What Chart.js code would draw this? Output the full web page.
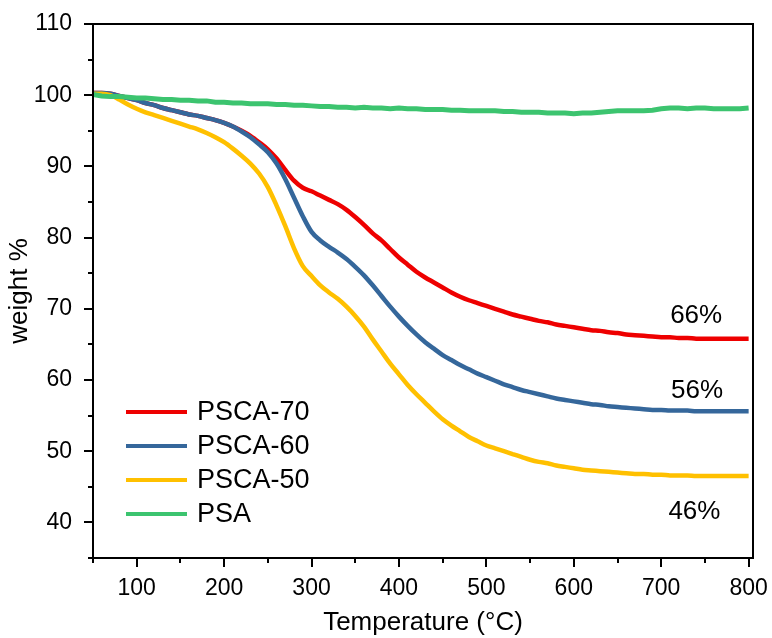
<!DOCTYPE html>
<html>
<head>
<meta charset="utf-8">
<script src="https://cdn.jsdelivr.net/npm/chart.js@4.4.1/dist/chart.umd.min.js"></script>
<style>
  html, body { margin: 0; padding: 0; background: #fff; }
  canvas { display: block; }
</style>
</head>
<body>
<canvas id="tga" width="772" height="638"></canvas>
<script>
// ---------------------------------------------------------------------------
// Data
// ---------------------------------------------------------------------------
const temps = [
    50, 60, 70, 80, 90, 100, 110, 120, 130, 140, 150, 160, 170, 180, 190,
    200, 210, 220, 230, 240, 250, 260, 270, 280, 290, 300, 310, 320, 330, 340,
    350, 360, 370, 380, 390, 400, 410, 420, 430, 440, 450, 460, 470, 480, 490,
    500, 510, 520, 530, 540, 550, 560, 570, 580, 590, 600, 610, 620, 630, 640,
    650, 660, 670, 680, 690, 700, 710, 720, 730, 740, 750, 760, 770, 780, 790, 800,
];

const psca70 = [
    100.3, 100.3, 100.2, 99.9, 99.6, 99.3, 98.9, 98.6, 98.2, 97.9, 97.6, 97.3, 97.1, 96.8, 96.5,
    96.1, 95.6, 95.0, 94.3, 93.4, 92.4, 91.1, 89.5, 88.0, 87.0, 86.5, 85.9, 85.3, 84.7, 83.9,
    82.9, 81.8, 80.6, 79.6, 78.4, 77.2, 76.2, 75.2, 74.4, 73.7, 73.0, 72.3, 71.7, 71.2, 70.8,
    70.4, 70.0, 69.6, 69.2, 68.9, 68.6, 68.3, 68.1, 67.8, 67.6, 67.4, 67.2, 67.0, 66.9, 66.7,
    66.6, 66.4, 66.3, 66.2, 66.1, 66.0, 66.0, 65.9, 65.9, 65.8, 65.8, 65.8, 65.8, 65.8, 65.8, 65.8,
];

const psca60 = [
    100.3, 100.3, 100.2, 99.9, 99.6, 99.3, 98.9, 98.6, 98.2, 97.9, 97.6, 97.3, 97.1, 96.8, 96.5,
    96.1, 95.6, 94.9, 94.1, 93.1, 92.0, 90.4, 88.2, 85.6, 83.0, 80.8, 79.6, 78.7, 77.9, 77.0,
    75.9, 74.7, 73.3, 71.8, 70.3, 68.9, 67.6, 66.4, 65.3, 64.4, 63.5, 62.8, 62.1, 61.5, 60.9,
    60.4, 59.9, 59.4, 59.0, 58.6, 58.3, 58.0, 57.7, 57.4, 57.2, 57.0, 56.8, 56.6, 56.5, 56.3,
    56.2, 56.1, 56.0, 55.9, 55.8, 55.8, 55.7, 55.7, 55.7, 55.6, 55.6, 55.6, 55.6, 55.6, 55.6, 55.6,
];

const psca50 = [
    100.2, 100.2, 100.0, 99.4, 98.7, 98.1, 97.6, 97.2, 96.8, 96.4, 96.0, 95.6, 95.2, 94.7, 94.1,
    93.4, 92.5, 91.5, 90.4, 89.0, 87.1, 84.5, 81.6, 78.5, 76.0, 74.6, 73.3, 72.3, 71.4, 70.3,
    69.0, 67.5, 65.7, 64.0, 62.3, 60.8, 59.3, 58.0, 56.8, 55.6, 54.5, 53.6, 52.8, 52.0, 51.4,
    50.8, 50.4, 50.0, 49.6, 49.2, 48.8, 48.5, 48.3, 48.0, 47.8, 47.6, 47.4, 47.3, 47.2, 47.1,
    47.0, 46.9, 46.8, 46.8, 46.7, 46.7, 46.6, 46.6, 46.6, 46.5, 46.5, 46.5, 46.5, 46.5, 46.5, 46.5,
];

const psa = [
    100.1, 99.9, 99.8, 99.8, 99.7, 99.6, 99.6, 99.5, 99.4, 99.4, 99.3, 99.3, 99.2, 99.2, 99.0,
    99.0, 98.9, 98.9, 98.8, 98.8, 98.8, 98.7, 98.7, 98.6, 98.6, 98.5, 98.4, 98.4, 98.3, 98.3,
    98.2, 98.3, 98.2, 98.2, 98.1, 98.2, 98.1, 98.1, 98.0, 98.0, 98.0, 97.9, 97.9, 97.8, 97.8,
    97.8, 97.8, 97.7, 97.7, 97.6, 97.6, 97.6, 97.5, 97.5, 97.5, 97.4, 97.5, 97.5, 97.6, 97.7,
    97.8, 97.8, 97.8, 97.8, 97.9, 98.1, 98.2, 98.2, 98.1, 98.2, 98.2, 98.1, 98.1, 98.1, 98.1, 98.2,
];

const seriesNames = ['PSCA-70', 'PSCA-60', 'PSCA-50', 'PSA'];
const seriesColors = ['#ee0000', '#35679b', '#ffc000', '#3cc46f'];

const xTicks = [50, 100, 150, 200, 250, 300, 350, 400, 450, 500, 550, 600, 650, 700, 750, 800];
const yTicks = [35, 40, 45, 50, 55, 60, 65, 70, 75, 80, 85, 90, 95, 100, 105, 110];

const residueLabels = ['66%', '56%', '46%'];
const residueAt = [[740, 69.0], [741, 58.5], [738, 41.5]];

const FONT = '"Liberation Sans", Arial, sans-serif';

// ---------------------------------------------------------------------------
// Plugin: frame, outward ticks (major/minor), legend, residue labels
// ---------------------------------------------------------------------------
const framePlugin = {
    id: 'frame',
    afterDraw(chart) {
        const { ctx, chartArea: a, scales: { x, y } } = chart;
        ctx.save();
        ctx.strokeStyle = '#000';
        ctx.lineWidth = 2;
        ctx.strokeRect(a.left, a.top, a.right - a.left, a.bottom - a.top);

        ctx.beginPath();
        xTicks.forEach(v => {
            const px = Math.round(x.getPixelForValue(v));
            const len = v % 100 === 0 ? 9 : 5;
            ctx.moveTo(px, a.bottom);
            ctx.lineTo(px, a.bottom + len);
        });
        yTicks.forEach(v => {
            const py = Math.round(y.getPixelForValue(v));
            const len = v % 10 === 0 ? 9 : 5;
            ctx.moveTo(a.left, py);
            ctx.lineTo(a.left - len, py);
        });
        ctx.stroke();

        // legend
        ctx.font = `27px ${FONT}`;
        ctx.textBaseline = 'middle';
        ctx.fillStyle = '#000';
        seriesNames.forEach((name, i) => {
            const ly = a.bottom - 146 + i * 34;
            ctx.strokeStyle = seriesColors[i];
            ctx.lineWidth = 4;
            ctx.beginPath();
            ctx.moveTo(a.left + 33, ly);
            ctx.lineTo(a.left + 94, ly);
            ctx.stroke();
            ctx.fillText(name, a.left + 104, ly + 1);
        });

        // residue labels
        ctx.font = `26px ${FONT}`;
        ctx.textAlign = 'center';
        residueLabels.forEach((t, i) => {
            ctx.fillText(t, x.getPixelForValue(residueAt[i][0]), y.getPixelForValue(residueAt[i][1]));
        });
        ctx.restore();
    },
};

// ---------------------------------------------------------------------------
// Chart
// ---------------------------------------------------------------------------
const seriesData = [psca70, psca60, psca50, psa];

const datasets = seriesData.map((vals, i) => ({
    label: seriesNames[i],
    data: vals.map((w, j) => ({ x: temps[j], y: w })),
    borderColor: seriesColors[i],
    borderWidth: i === 3 ? 5 : 4.5,
    pointRadius: 0,
    fill: false,
    cubicInterpolationMode: i === 3 ? 'default' : 'monotone',
    tension: i === 3 ? 0 : 0.4,
    order: 4 - i,   // PSA on top, like the reference
}));

new Chart(document.getElementById('tga'), {
    type: 'line',
    data: { datasets },
    options: {
        responsive: false,
        animation: false,
        devicePixelRatio: 1,
        layout: { padding: { top: 24, right: 19, left: 0, bottom: 0 } },
        plugins: { legend: { display: false }, tooltip: { enabled: false } },
        scales: {
            x: {
                type: 'linear',
                min: 50,
                max: 805,
                grid: { display: false, drawTicks: false },
                border: { display: false },
                afterBuildTicks: s => { s.ticks = xTicks.filter(v => v % 100 === 0).map(v => ({ value: v })); },
                afterFit: s => { s.height = 80; s.paddingLeft = 0; s.paddingRight = 0; },
                ticks: {
                    color: '#000',
                    padding: 17,
                    font: { family: FONT, size: 23 },
                    maxRotation: 0,
                    autoSkip: false,
                },
                title: {
                    display: true,
                    text: 'Temperature (°C)',
                    color: '#000',
                    font: { family: FONT, size: 26 },
                    padding: { top: 0, bottom: 0 },
                },
            },
            y: {
                min: 35,
                max: 110,
                grid: { display: false, drawTicks: false },
                border: { display: false },
                afterBuildTicks: s => { s.ticks = yTicks.filter(v => v % 10 === 0).map(v => ({ value: v })); },
                afterFit: s => { s.width = 93; s.paddingTop = 0; s.paddingBottom = 0; },
                ticks: {
                    color: '#000',
                    padding: 21,
                    font: { family: FONT, size: 23 },
                    autoSkip: false,
                },
                title: {
                    display: true,
                    text: 'weight %',
                    color: '#000',
                    font: { family: FONT, size: 26 },
                    padding: { top: 4, bottom: 0 },
                },
            },
        },
    },
    plugins: [framePlugin],
});
</script>
</body>
</html>
